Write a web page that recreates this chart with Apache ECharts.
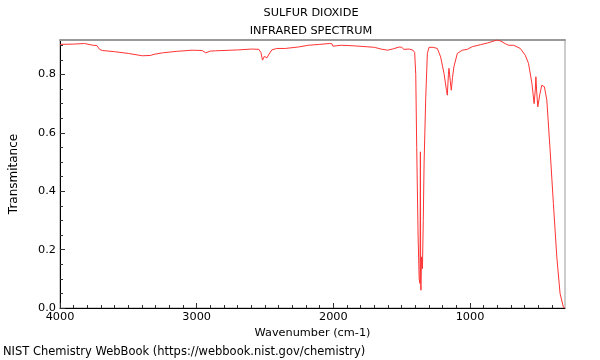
<!DOCTYPE html>
<html>
<head>
<meta charset="utf-8">
<script src="https://cdn.jsdelivr.net/npm/echarts@6/dist/echarts.min.js"></script>
<style>html,body{margin:0;padding:0;background:#fff}#c{width:600px;height:360px}</style>
</head>
<body>
<div id="c"></div>
<script>
var wavenumbers = [4000,3900,3820,3760,3730,3711,3690,3600,3500,3398,3340,3311,3250,3150,3034,2960,2934,2900,2862,2700,2597,2545,2530,2518,2505,2495,2486,2470,2450,2415,2352,2256,2183,2100,2030,2010,2003,1980,1943,1850,1760,1700,1651,1603,1560,1518,1500,1484,1470,1445,1417,1405,1397,1390,1380,1372,1366,1363,1361,1359,1355,1348,1342,1336,1324,1312,1300,1270,1239,1215,1190,1172,1166,1158,1154,1145,1137,1128,1118,1093,1057,1020,984,923,870,802,778,740,717,681,632,596,572,547,531,522,518,512,504,490,475,456,438,414,390,365,341,317,305];
var transmittance = [0.903,0.904,0.906,0.900,0.899,0.886,0.882,0.878,0.872,0.864,0.865,0.869,0.874,0.879,0.883,0.882,0.874,0.880,0.881,0.884,0.887,0.886,0.875,0.849,0.862,0.866,0.857,0.870,0.884,0.889,0.889,0.894,0.900,0.903,0.906,0.905,0.897,0.898,0.900,0.898,0.895,0.893,0.887,0.883,0.888,0.894,0.893,0.886,0.889,0.887,0.883,0.875,0.80,0.55,0.25,0.10,0.084,0.535,0.09,0.061,0.175,0.135,0.30,0.496,0.72,0.872,0.893,0.893,0.889,0.860,0.803,0.745,0.729,0.80,0.821,0.78,0.746,0.79,0.826,0.872,0.883,0.886,0.895,0.902,0.908,0.918,0.915,0.905,0.900,0.900,0.889,0.866,0.838,0.769,0.700,0.75,0.792,0.74,0.689,0.73,0.763,0.758,0.712,0.541,0.358,0.175,0.049,0.003,0.0];
var xMajorTicks = [1000,2000,3000,4000];
var yMajorTicks = [0,0.2,0.4,0.6,0.8];
var xMinorTicks = [];
for (var v = 400; v < 4000; v += 100) { if (v % 1000 !== 0) xMinorTicks.push(v); }
var yMinorTicks = [0.05,0.1,0.15,0.25,0.3,0.35,0.45,0.5,0.55,0.65,0.7,0.75,0.85,0.9];
var titleLines = ['SULFUR DIOXIDE','INFRARED SPECTRUM'];
var xName = 'Wavenumber (cm-1)';
var yName = 'Transmitance';
var footer = 'NIST Chemistry WebBook (https://webbook.nist.gov/chemistry)';

var xMin = 305, xMax = 4000, yMin = 0, yMax = 0.918;
var FONT = 'DejaVu Sans';
var points = wavenumbers.map(function(w, i){ return [w, transmittance[i]]; });

var chart = echarts.init(document.getElementById('c'), null, {renderer: 'canvas'});
var baseX = {type:'value', min:xMin, max:xMax, inverse:true, gridIndex:0, splitLine:{show:false}};
var baseY = {type:'value', min:yMin, max:yMax, gridIndex:0, splitLine:{show:false}};
chart.setOption({
  animation: false,
  backgroundColor: '#fff',
  textStyle: {fontFamily: FONT},
  title: {
    text: titleLines.join('\n'),
    left: 311, top: 4, padding: 0, textAlign: 'center',
    textStyle: {fontFamily: FONT, fontSize: 11.3, fontWeight: 'normal', color: '#000', lineHeight: 18}
  },
  graphic: [{
    type: 'text', left: 3, top: 346,
    style: {text: footer, font: '11.5px "DejaVu Sans"', fill: '#000'}
  }],
  grid: {left: 57, right: 35, top: 40, bottom: 52, show: true, borderColor: '#999', borderWidth: 1, backgroundColor: 'transparent'},
  xAxis: [
    Object.assign({}, baseX, {
      position: 'bottom',
      name: xName, nameLocation: 'middle', nameGap: 18,
      nameTextStyle: {fontFamily: FONT, fontSize: 11.3, color: '#000'},
      axisLine: {show: true, lineStyle: {color: '#000', width: 1}},
      axisTick: {show: true, inside: true, length: 5, customValues: xMajorTicks, lineStyle: {color: '#333'}},
      axisLabel: {show: true, margin: 4, customValues: xMajorTicks, fontFamily: FONT, fontSize: 11.3, color: '#000',
        formatter: function(v){ return String(v); }}
    }),
    Object.assign({}, baseX, {
      position: 'bottom',
      axisLine: {show: false},
      axisTick: {show: true, inside: true, length: 3, customValues: xMinorTicks, lineStyle: {color: '#333'}},
      axisLabel: {show: false}
    }),
    Object.assign({}, baseX, {
      position: 'top',
      axisLine: {show: true, lineStyle: {color: '#999', width: 2}},
      axisTick: {show: false},
      axisLabel: {show: false}
    })
  ],
  yAxis: [
    Object.assign({}, baseY, {
      position: 'left',
      name: yName, nameLocation: 'middle', nameGap: 40, nameRotate: 90,
      nameTextStyle: {fontFamily: FONT, fontSize: 12, color: '#000'},
      axisLine: {show: true, lineStyle: {color: '#000', width: 1}},
      axisTick: {show: true, inside: true, length: 5, customValues: yMajorTicks, lineStyle: {color: '#333'}},
      axisLabel: {show: true, margin: 4, customValues: yMajorTicks, fontFamily: FONT, fontSize: 11.3, color: '#000',
        formatter: function(v){ return v.toFixed(1); }}
    }),
    Object.assign({}, baseY, {
      position: 'left',
      axisLine: {show: false},
      axisTick: {show: true, inside: true, length: 3, customValues: yMinorTicks, lineStyle: {color: '#333'}},
      axisLabel: {show: false}
    })
  ],
  series: [{
    type: 'line', xAxisIndex: 0, yAxisIndex: 0,
    data: points, showSymbol: false, symbol: 'none', smooth: false,
    lineStyle: {color: '#ff3333', width: 1}
  }]
});
</script>
</body>
</html>
